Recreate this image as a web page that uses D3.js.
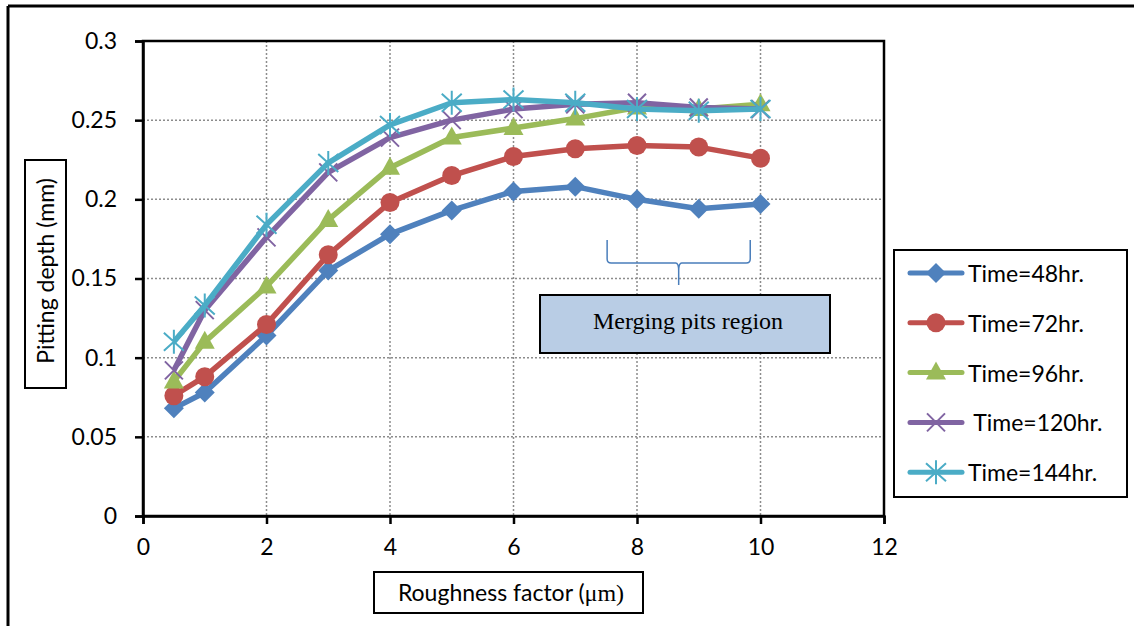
<!DOCTYPE html>
<html>
<head>
<meta charset="utf-8">
<script src="https://cdn.jsdelivr.net/npm/d3@7"></script>
<style>
  body { margin:0; background:#fff; }
  svg { display:block; font-family: Lato, "Open Sans", sans-serif; }
</style>
</head>
<body>
<div id="chart"></div>
<script>
// data
var roughness = [0.5, 1, 2, 3, 4, 5, 6, 7, 8, 9, 10];
var depth48  = [0.068, 0.078, 0.114, 0.155, 0.178, 0.193, 0.205, 0.208, 0.200, 0.194, 0.197];
var depth72  = [0.076, 0.088, 0.121, 0.165, 0.198, 0.215, 0.227, 0.232, 0.234, 0.233, 0.226];
var depth96  = [0.085, 0.110, 0.145, 0.187, 0.220, 0.239, 0.245, 0.251, 0.258, 0.257, 0.260];
var depth120 = [0.092, 0.130, 0.176, 0.217, 0.239, 0.250, 0.257, 0.260, 0.261, 0.258, 0.257];
var depth144 = [0.110, 0.133, 0.184, 0.223, 0.247, 0.261, 0.263, 0.261, 0.257, 0.256, 0.257];
var seriesNames = ["Time=48hr.", "Time=72hr.", "Time=96hr.", " Time=120hr.", "Time=144hr."];
var seriesColors = ["#4f81bd", "#c0504d", "#9bbb59", "#8064a2", "#4bacc6"];
var seriesMarkers = ["diamond", "circle", "triangle", "cross", "star"];
var xTicks = [0, 2, 4, 6, 8, 10, 12];
var yTicks = [0, 0.05, 0.1, 0.15, 0.2, 0.25, 0.3];
var regionFrom = 7.5, regionTo = 9.85;

var allSeries = [depth48, depth72, depth96, depth120, depth144];

var W = 1134, H = 626;
var svg = d3.select("#chart").append("svg").attr("width", W).attr("height", H);

var x = d3.scaleLinear().domain([0, 12]).range([143, 884]);
var y = d3.scaleLinear().domain([0, 0.3]).range([516, 41]);

// outer frame (top and left edges only visible)
svg.append("line").attr("x1", 8).attr("x2", W).attr("y1", 6).attr("y2", 6)
   .attr("stroke", "#000").attr("stroke-width", 3);
svg.append("line").attr("x1", 8).attr("x2", 8).attr("y1", 6).attr("y2", H)
   .attr("stroke", "#000").attr("stroke-width", 3);

// grid
var grid = svg.append("g");
grid.selectAll(".gx").data(xTicks.slice(1, -1)).enter().append("line")
    .attr("x1", function(d){ return x(d); }).attr("x2", function(d){ return x(d); })
    .attr("y1", y(0.3)).attr("y2", y(0))
    .attr("stroke", "#8c8c8c").attr("stroke-width", 1.5).attr("stroke-dasharray", "2,2");
grid.selectAll(".gy").data(yTicks.slice(1, -1)).enter().append("line")
    .attr("x1", x(0)).attr("x2", x(12))
    .attr("y1", function(d){ return y(d); }).attr("y2", function(d){ return y(d); })
    .attr("stroke", "#8c8c8c").attr("stroke-width", 1.5).attr("stroke-dasharray", "2,2");

// plot frame
svg.append("rect").attr("x", x(0)).attr("y", y(0.3))
   .attr("width", x(12) - x(0)).attr("height", y(0) - y(0.3))
   .attr("fill", "none").attr("stroke", "#000").attr("stroke-width", 2.5);

// axes
var xAxis = svg.append("g").attr("transform", "translate(0," + y(0) + ")")
    .call(d3.axisBottom(x).tickValues(xTicks).tickSize(8).tickPadding(15).tickFormat(d3.format("d")));
var yAxis = svg.append("g").attr("transform", "translate(" + x(0) + ",0)")
    .call(d3.axisLeft(y).tickValues(yTicks).tickSize(8).tickPadding(18).tickFormat(function(d){ return d3.format("")(+d.toFixed(2)); }));
[xAxis, yAxis].forEach(function(a){
  a.attr("font-size", null).attr("font-family", null);
  a.select(".domain").attr("stroke", "#000").attr("stroke-width", 2.5);
  a.selectAll(".tick line").attr("stroke", "#000").attr("stroke-width", 2.5);
  a.selectAll(".tick text").attr("fill", "#000").style("font-size", "23px");
});

// markers
function drawMarker(g, type, color, cx, cy) {
  if (type == "diamond") {
    g.append("path").attr("d", "M" + cx + "," + (cy - 10) + "L" + (cx + 10) + "," + cy + "L" + cx + "," + (cy + 10) + "L" + (cx - 10) + "," + cy + "Z")
     .attr("fill", color);
  } else if (type == "circle") {
    g.append("circle").attr("cx", cx).attr("cy", cy).attr("r", 9.5).attr("fill", color);
  } else if (type == "triangle") {
    g.append("path").attr("d", "M" + cx + "," + (cy - 11) + "L" + (cx + 10) + "," + (cy + 7) + "L" + (cx - 10) + "," + (cy + 7) + "Z")
     .attr("fill", color);
  } else if (type == "cross") {
    g.append("path").attr("d", "M" + (cx - 9) + "," + (cy - 9) + "L" + (cx + 9) + "," + (cy + 9) + "M" + (cx - 9) + "," + (cy + 9) + "L" + (cx + 9) + "," + (cy - 9))
     .attr("stroke", color).attr("stroke-width", 2);
  } else {
    g.append("path").attr("d", "M" + (cx - 10) + "," + (cy - 9) + "L" + (cx + 10) + "," + (cy + 9) + "M" + (cx - 10) + "," + (cy + 9) + "L" + (cx + 10) + "," + (cy - 9) + "M" + cx + "," + (cy - 12) + "L" + cx + "," + (cy + 12))
     .attr("stroke", color).attr("stroke-width", 2);
  }
}

var line = d3.line().x(function(d){ return x(d[0]); }).y(function(d){ return y(d[1]); });

allSeries.forEach(function(vals, s){
  var pts = roughness.map(function(r, i){ return [r, vals[i]]; });
  var g = svg.append("g");
  g.append("path").datum(pts).attr("d", line).attr("fill", "none")
   .attr("stroke", seriesColors[s]).attr("stroke-width", 5.5).attr("stroke-linejoin", "round");
  pts.forEach(function(p){ drawMarker(g, seriesMarkers[s], seriesColors[s], x(p[0]), y(p[1])); });
});

// brace over merging region
var bx0 = x(regionFrom) + 1, bx1 = x(regionTo) - 1, bmid = (bx0 + bx1) / 2, btop = 240, bh = 263;
svg.append("path")
   .attr("d", "M" + bx0 + "," + btop + "L" + bx0 + "," + (bh - 4) + "Q" + bx0 + "," + bh + " " + (bx0 + 4) + "," + bh +
              "L" + (bmid - 3) + "," + bh + "Q" + bmid + "," + bh + " " + bmid + "," + (bh + 8) + "L" + bmid + "," + 285 +
              "M" + bmid + "," + (bh + 8) + "Q" + bmid + "," + bh + " " + (bmid + 3) + "," + bh +
              "L" + (bx1 - 4) + "," + bh + "Q" + bx1 + "," + bh + " " + bx1 + "," + (bh - 4) + "L" + bx1 + "," + btop)
   .attr("fill", "none").attr("stroke", "#4a7ebb").attr("stroke-width", 1.5);

svg.append("rect").attr("x", 540).attr("y", 295).attr("width", 290).attr("height", 58)
   .attr("fill", "#b9cde5").attr("stroke", "#000").attr("stroke-width", 2);
svg.append("text").attr("x", 688).attr("y", 329).attr("text-anchor", "middle")
   .style("font-family", "'Liberation Serif', 'Times New Roman', serif").style("font-size", "24px")
   .text("Merging pits region");

// axis titles
svg.append("rect").attr("x", 25).attr("y", 160).attr("width", 41).attr("height", 228)
   .attr("fill", "#fff").attr("stroke", "#000").attr("stroke-width", 2);
svg.append("text").attr("transform", "translate(54,271) rotate(-90)").attr("text-anchor", "middle")
   .style("font-size", "23px").text("Pitting depth (mm)");

svg.append("rect").attr("x", 374).attr("y", 572).attr("width", 269).attr("height", 41)
   .attr("fill", "#fff").attr("stroke", "#000").attr("stroke-width", 2);
var xt = svg.append("text").attr("x", 511).attr("y", 601).attr("text-anchor", "middle").style("font-size", "23px");
xt.append("tspan").text("Roughness factor (");
xt.append("tspan").style("font-family", "'Liberation Serif', serif").style("font-size", "24px").text("\u03bcm)");

// legend
var legend = svg.append("g");
legend.append("rect").attr("x", 894).attr("y", 250).attr("width", 233).attr("height", 247)
   .attr("fill", "#fff").attr("stroke", "#000").attr("stroke-width", 2);
seriesNames.forEach(function(name, s){
  var ly = 273 + s * 49.8;
  var g = legend.append("g");
  g.append("line").attr("x1", 910).attr("x2", 962).attr("y1", ly).attr("y2", ly)
   .attr("stroke", seriesColors[s]).attr("stroke-width", 5).attr("stroke-linecap", "round");
  drawMarker(g, seriesMarkers[s], seriesColors[s], 936, ly);
  g.append("text").attr("x", 968).attr("y", ly + 9).style("font-size", "23px")
   .attr("xml:space", "preserve").style("white-space", "pre").text(name);
});
</script>
</body>
</html>
